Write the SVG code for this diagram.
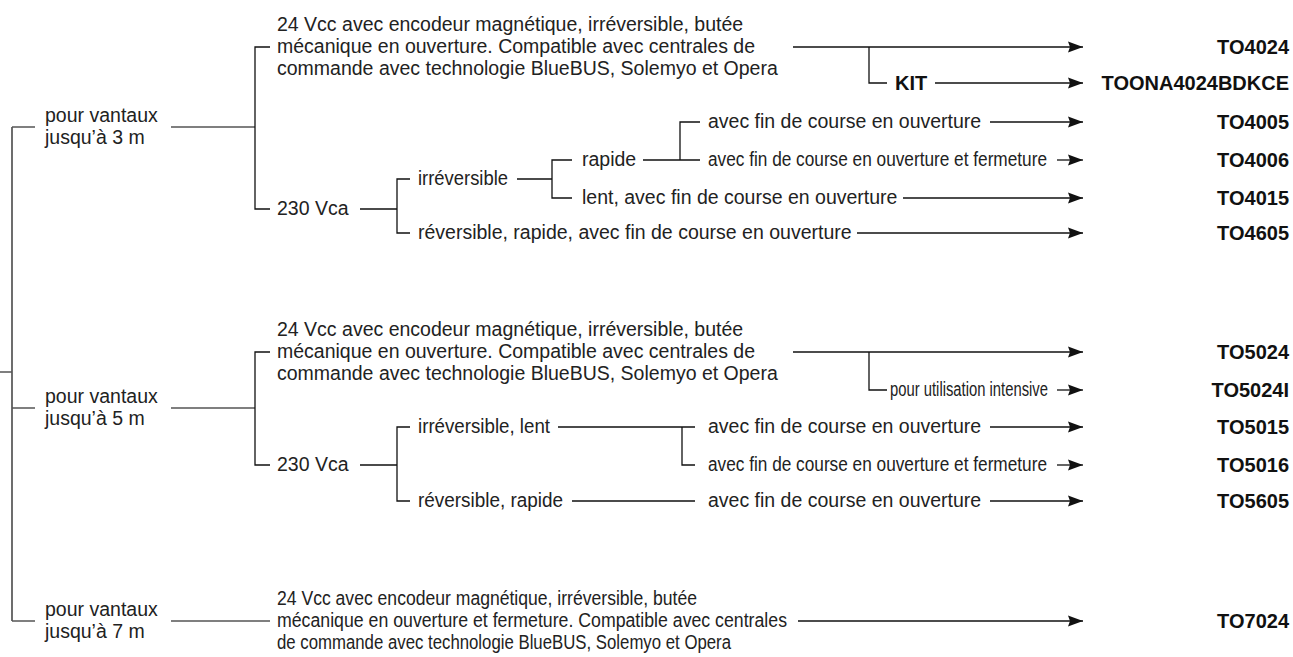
<svg xmlns="http://www.w3.org/2000/svg" width="1293" height="657" viewBox="0 0 1293 657">
<style>
text{font-family:"Liberation Sans",Arial,sans-serif;font-size:19.5px;fill:#222}
.b{font-weight:bold;font-size:20px;fill:#111;text-anchor:end}
.k{font-weight:bold;font-size:20px;fill:#111}
.c{fill:none;stroke:#111;stroke-width:1.3}
.r{fill:none;stroke:#555;stroke-width:1.7}
.a{fill:none;stroke:#111;stroke-width:1.3;marker-end:url(#ah)}
</style>
<defs>
<marker id="ah" markerUnits="userSpaceOnUse" markerWidth="16" markerHeight="12" refX="15" refY="5.5" orient="auto" viewBox="0 0 16 11">
<path d="M0,0 L15,5.5 L0,11 L2,5.5 z" fill="#111"/>
</marker>
</defs>
<rect width="1293" height="657" fill="#fff"/>
<g id="connectors">
<path class="r" d="M0,372 H12 M12,127 V621 M12,127 H35 M12,408 H35 M12,621 H35 M171,127 H255 M171,408 H255 M171,621 H270"/>
<path class="c" d="M270,47 H255 V209 H270 M360,209 H397 M410,179 H397 V233 H410 M517,179 H552 M572,160 H552 V198 H572 M643,160 H700 M700,122 H680 V160 M869,47 V83 H887"/>
<path class="a" d="M793,47 H1083"/>
<path class="a" d="M935,83 H1083"/>
<path class="a" d="M990,122 H1083"/>
<path class="a" d="M1057,160 H1083"/>
<path class="a" d="M903,198 H1083"/>
<path class="a" d="M857,233 H1083"/>
<path class="c" d="M270,352 H255 V465 H270 M360,465 H397 M410,427 H397 V501 H410 M558,427 H695 M682,427 V465 H695 M572,501 H695 M869,352 V390 H887"/>
<path class="a" d="M793,352 H1083"/>
<path class="a" d="M1057,390 H1083"/>
<path class="a" d="M990,427 H1083"/>
<path class="a" d="M1057,465 H1083"/>
<path class="a" d="M990,501 H1083"/>
<path class="a" d="M798,621 H1083"/>
</g>
<g id="n-3m"><text x="45" y="122">pour vantaux</text><text x="45" y="144">jusqu’à 3 m</text></g>
<g id="n-3m-24v"><text x="277" y="31">24 Vcc avec encodeur magnétique, irréversible, butée</text><text x="277" y="53">mécanique en ouverture. Compatible avec centrales de</text><text x="277" y="75">commande avec technologie BlueBUS, Solemyo et Opera</text></g>
<g id="n-3m-kit"><text class="k" x="895" y="90">KIT</text></g>
<g id="n-3m-230"><text x="277" y="215">230 Vca</text></g>
<g id="n-3m-irrev"><text x="418" y="185" textLength="90" lengthAdjust="spacingAndGlyphs">irréversible</text></g>
<g id="n-3m-rapide"><text x="582" y="166">rapide</text></g>
<g id="n-3m-fc1"><text x="708" y="128">avec fin de course en ouverture</text></g>
<g id="n-3m-fc2"><text x="708" y="166" textLength="339" lengthAdjust="spacingAndGlyphs">avec fin de course en ouverture et fermeture</text></g>
<g id="n-3m-lent"><text x="582" y="204">lent, avec fin de course en ouverture</text></g>
<g id="n-3m-rev"><text x="418" y="239">réversible, rapide, avec fin de course en ouverture</text></g>
<g id="p-TO4024"><text class="b" x="1289" y="54">TO4024</text></g>
<g id="p-TOONA4024BDKCE"><text class="b" x="1289" y="90">TOONA4024BDKCE</text></g>
<g id="p-TO4005"><text class="b" x="1289" y="129">TO4005</text></g>
<g id="p-TO4006"><text class="b" x="1289" y="167">TO4006</text></g>
<g id="p-TO4015"><text class="b" x="1289" y="205">TO4015</text></g>
<g id="p-TO4605"><text class="b" x="1289" y="240">TO4605</text></g>

<g id="n-5m"><text x="45" y="403">pour vantaux</text><text x="45" y="425">jusqu’à 5 m</text></g>
<g id="n-5m-24v"><text x="277" y="336">24 Vcc avec encodeur magnétique, irréversible, butée</text><text x="277" y="358">mécanique en ouverture. Compatible avec centrales de</text><text x="277" y="380">commande avec technologie BlueBUS, Solemyo et Opera</text></g>
<g id="n-5m-int"><text x="890" y="396" textLength="158" lengthAdjust="spacingAndGlyphs">pour utilisation intensive</text></g>
<g id="n-5m-230"><text x="277" y="471">230 Vca</text></g>
<g id="n-5m-irrev"><text x="418" y="433" textLength="132" lengthAdjust="spacingAndGlyphs">irréversible, lent</text></g>
<g id="n-5m-fc1"><text x="708" y="433">avec fin de course en ouverture</text></g>
<g id="n-5m-fc2"><text x="708" y="471" textLength="339" lengthAdjust="spacingAndGlyphs">avec fin de course en ouverture et fermeture</text></g>
<g id="n-5m-rev"><text x="418" y="507" textLength="145" lengthAdjust="spacingAndGlyphs">réversible, rapide</text></g>
<g id="n-5m-fc3"><text x="708" y="507">avec fin de course en ouverture</text></g>
<g id="p-TO5024"><text class="b" x="1289" y="359">TO5024</text></g>
<g id="p-TO5024I"><text class="b" x="1289" y="397">TO5024I</text></g>
<g id="p-TO5015"><text class="b" x="1289" y="434">TO5015</text></g>
<g id="p-TO5016"><text class="b" x="1289" y="472">TO5016</text></g>
<g id="p-TO5605"><text class="b" x="1289" y="508">TO5605</text></g>

<g id="n-7m"><text x="45" y="616">pour vantaux</text><text x="45" y="638">jusqu’à 7 m</text></g>
<g id="n-7m-24v"><text x="277" y="605" textLength="420" lengthAdjust="spacingAndGlyphs">24 Vcc avec encodeur magnétique, irréversible, butée</text><text x="277" y="627" textLength="510" lengthAdjust="spacingAndGlyphs">mécanique en ouverture et fermeture. Compatible avec centrales</text><text x="277" y="649" textLength="454" lengthAdjust="spacingAndGlyphs">de commande avec technologie BlueBUS, Solemyo et Opera</text></g>
<g id="p-TO7024"><text class="b" x="1289" y="628">TO7024</text></g>
</svg>
